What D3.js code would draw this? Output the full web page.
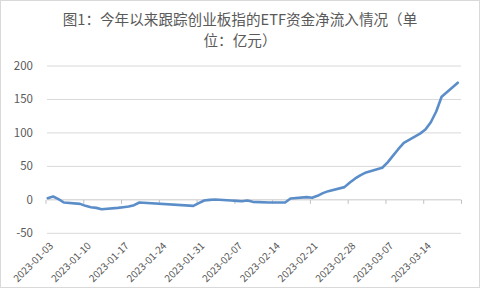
<!DOCTYPE html>
<html><head><meta charset="utf-8">
<script src="https://cdn.jsdelivr.net/npm/d3@7"></script>
<style>body{margin:0;background:#fff}svg{display:block}</style>
</head><body>
<svg id="c" width="480" height="288"></svg>
<script>
const titleLines = ["图1：今年以来跟踪创业板指的ETF资金净流入情况（单", "位：亿元）"];
const dates = ["2023-01-03","2023-01-04","2023-01-05","2023-01-06","2023-01-09","2023-01-10","2023-01-11","2023-01-12","2023-01-13",
"2023-01-16","2023-01-17","2023-01-18","2023-01-19","2023-01-20","2023-01-30","2023-01-31","2023-02-01","2023-02-02","2023-02-03",
"2023-02-06","2023-02-07","2023-02-08","2023-02-09","2023-02-10","2023-02-13","2023-02-14","2023-02-15","2023-02-16","2023-02-17",
"2023-02-20","2023-02-21","2023-02-22","2023-02-23","2023-02-24","2023-02-27","2023-02-28","2023-03-01","2023-03-02","2023-03-03",
"2023-03-06","2023-03-07","2023-03-08","2023-03-09","2023-03-10","2023-03-13","2023-03-14","2023-03-15","2023-03-16","2023-03-17","2023-03-20"];
const values = [2.5,5,1,-4,-6,-9,-11,-12,-14,
-12,-11,-10,-8,-4,-9,-5,-1,0,0.5,
-1,-1.5,-2,-1,-3,-4,-4,-4,-4,2,
4,3,6,10,13,19,26,32,37,41,
48,56,66,76,85,99,105,116,132,154,175];
const yTicks = [-50,0,50,100,150,200];
const xTickLabels = ["2023-01-03","2023-01-10","2023-01-17","2023-01-24","2023-01-31","2023-02-07","2023-02-14","2023-02-21","2023-02-28","2023-03-07","2023-03-14"];
const axisEnd = "2023-03-21";

const parse = d3.utcParse("%Y-%m-%d");
const svg = d3.select("#c");
const grey = "#595959";
const font = "'Noto Sans CJK SC','Noto Sans',sans-serif";

svg.append("rect").attr("x",0.5).attr("y",0.5).attr("width",479).attr("height",287)
  .attr("fill","#fff").attr("stroke","#d9d9d9");

const x = d3.scaleUtc().domain([parse(xTickLabels[0]), parse(axisEnd)]).range([45.5, 461]);
const y = d3.scaleLinear().domain([-50, 200]).range([233.3, 66]);
const plotL = 47, plotR = 461;

// title
const t = svg.append("text").attr("text-anchor","middle").attr("fill",grey)
  .attr("font-family",font).attr("font-size",14.6);
titleLines.forEach((s,i)=>t.append("tspan").attr("x",240).attr("y",25+i*20.5).text(s));

// gridlines
svg.append("g").selectAll("line").data(yTicks.filter(v=>v!==0)).join("line")
  .attr("x1",plotL).attr("x2",plotR).attr("y1",d=>y(d)).attr("y2",d=>y(d))
  .attr("stroke","#d9d9d9").attr("stroke-width",1);

// y labels
svg.append("g").selectAll("text").data(yTicks).join("text")
  .attr("x",33).attr("y",d=>y(d)).attr("dy","0.35em").attr("text-anchor","end")
  .attr("fill",grey).attr("font-family",font).attr("font-size",11.5).text(d=>d);

// x axis at zero
const tickDates = xTickLabels.map(parse).concat([parse(axisEnd)]);
const xAxis = d3.axisBottom(x).tickValues(tickDates).tickSize(4).tickFormat("");
const gx = svg.append("g").attr("transform",`translate(0,${y(0)})`).call(xAxis);
gx.select(".domain").remove();
gx.selectAll(".tick line").attr("stroke","#bfbfbf");
svg.append("line").attr("x1",plotL).attr("x2",plotR).attr("y1",y(0)).attr("y2",y(0))
  .attr("stroke","#c8c8c8").attr("stroke-width",1);

// x labels
svg.append("g").selectAll("text").data(xTickLabels).join("text")
  .attr("transform",d=>`translate(${x(parse(d))+6},${244}) rotate(-45)`)
  .attr("text-anchor","end").attr("dy","0.35em")
  .attr("fill",grey).attr("font-family",font).attr("font-size",10).text(d=>d);

// line (points sit slightly inside the day slot)
const data = dates.map((d,i)=>({date:parse(d), v:values[i]}));
const line = d3.line().x(d=>x(d.date)).y(d=>y(d.v));
svg.append("path").datum(data).attr("d",line).attr("transform","translate(2.2,0)")
  .attr("fill","none").attr("stroke","#5b8ec9").attr("stroke-width",2.6)
  .attr("stroke-linejoin","round").attr("stroke-linecap","round");
</script>
</body></html>
